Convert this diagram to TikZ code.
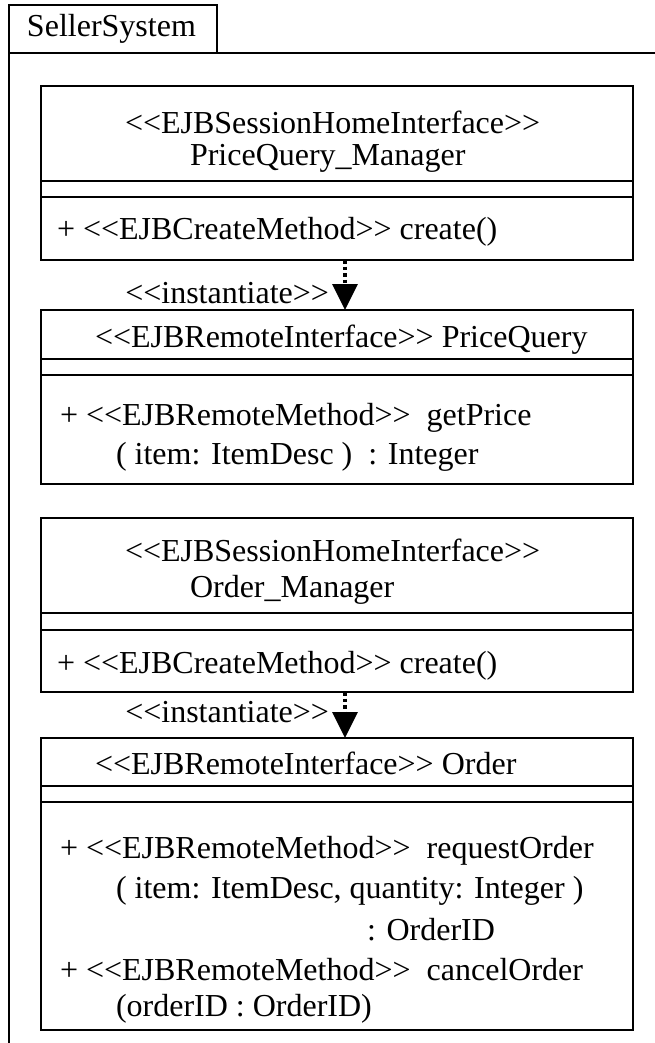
\documentclass[tikz,border=0pt]{standalone}
\usepackage{fontspec}
\setmainfont{Liberation Serif}
\usetikzlibrary{arrows.meta}
\newcommand{\stl}{<{}<}
\newcommand{\str}{>{}>}
\begin{document}
\begin{tikzpicture}[x=1pt,y=-1pt,
  every node/.style={font=\fontsize{32}{39.5}\selectfont, inner sep=0pt, outer sep=0pt},
  frame/.style={line width=1.5pt},
  umlbox/.style={draw, line width=1.5pt, rectangle, minimum width=592pt, anchor=north west},
  txt/.style={anchor=west},
  dep/.style={line width=3.5pt, dash pattern=on 3.5pt off 3pt, -{Triangle[width=25pt,length=26pt]}}
]
\useasboundingbox (0,0) rectangle (654,1043);
% package frame
\node[draw, frame, anchor=north west, minimum width=208pt, minimum height=48pt] (tab) at (9,5) {};
\node[txt] (pkg) at (27,29) {SellerSystem};
\draw[frame] (9,1050) -- (tab.south west) -- (tab.south east) -- (660,53);

% box 1
\node[umlbox, minimum height=174pt] (b1) at (41,86) {};
\draw[frame] (b1.west |- 0,181) -- (b1.east |- 0,181);
\draw[frame] (b1.west |- 0,197) -- (b1.east |- 0,197);
\node[txt] (b1s) at (125,122) {\stl EJBSessionHomeInterface\str};
\node[txt] (b1n) at (190,158) {PriceQuery\_Manager};
\node[txt] (b1o) at (57,232) {+ \stl EJBCreateMethod\str{} create()};

% box 2
\node[umlbox, minimum height=174pt] (b2) at (41,310) {};
\draw[frame] (b2.west |- 0,359) -- (b2.east |- 0,359);
\draw[frame] (b2.west |- 0,375) -- (b2.east |- 0,375);
\node[txt] (b2n) at (95,340) {\stl EJBRemoteInterface\str{} PriceQuery};
\node[txt] (b2o1) at (60,418) {+ \stl EJBRemoteMethod\str\ \ getPrice};
\node[txt] (b2o2) at (116,457) {( item: ItemDesc )\ \ : Integer};

% box 3
\node[umlbox, minimum height=174pt] (b3) at (41,518) {};
\draw[frame] (b3.west |- 0,613) -- (b3.east |- 0,613);
\draw[frame] (b3.west |- 0,630) -- (b3.east |- 0,630);
\node[txt] (b3s) at (125,550) {\stl EJBSessionHomeInterface\str};
\node[txt] (b3n) at (190,590) {Order\_Manager};
\node[txt] (b3o) at (57,666) {+ \stl EJBCreateMethod\str{} create()};

% box 4
\node[umlbox, minimum height=292pt] (b4) at (41,738) {};
\draw[frame] (b4.west |- 0,786) -- (b4.east |- 0,786);
\draw[frame] (b4.west |- 0,802) -- (b4.east |- 0,802);
\node[txt] (b4n) at (95,763) {\stl EJBRemoteInterface\str{} Order};
\node[txt] (b4o1) at (60,851) {+ \stl EJBRemoteMethod\str\ \ requestOrder};
\node[txt] (b4o2) at (116,891) {( item: ItemDesc, quantity: Integer )};
\node[txt] (b4o3) at (367,930) {: OrderID};
\node[txt] (b4o4) at (60,970) {+ \stl EJBRemoteMethod\str\ \ cancelOrder};
\node[txt] (b4o5) at (116,1009) {(orderID : OrderID)};

% dependencies
\coordinate (ax) at (345,0);
\draw[dep] (b1.south -| ax) -- (b2.north -| ax);
\node[anchor=east] (l1) at (329,293) {\stl instantiate\str};
\draw[dep] (b3.south -| ax) -- (b4.north -| ax);
\node[anchor=east] (l2) at (329,712) {\stl instantiate\str};
\end{tikzpicture}
\end{document}
